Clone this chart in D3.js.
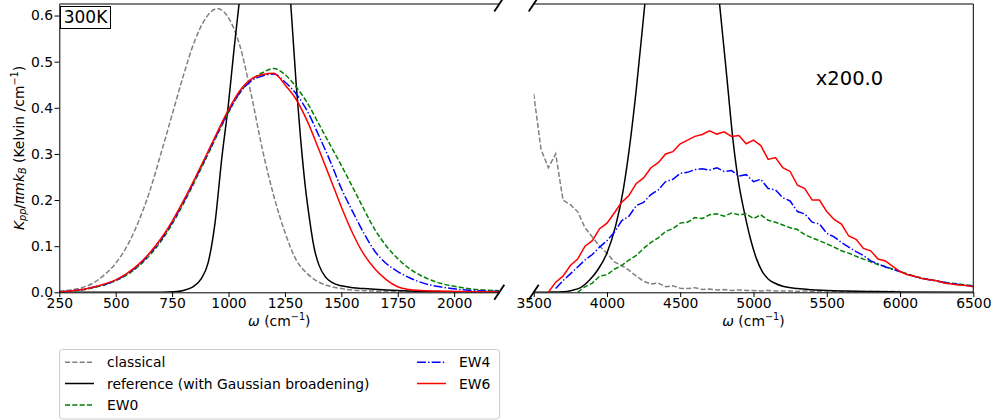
<!DOCTYPE html>
<html>
<head>
<meta charset="utf-8">
<script src="https://cdn.jsdelivr.net/npm/d3@7"></script>
<style>
  body { margin: 0; background: #fff; }
  svg { display: block; font-family: "DejaVu Sans", sans-serif; }
  text { white-space: pre; }
</style>
</head>
<body>
<svg id="chart" width="998" height="420"></svg>
<script>
// ---- low frequency window (cm^-1) ----
const omegaLow = [250, 300, 350, 400, 450, 500, 550, 600, 650, 700, 750, 800, 850, 900, 950, 1000,
    1050, 1100, 1150, 1200, 1250, 1300, 1350, 1400, 1450, 1500, 1550, 1600, 1650, 1700, 1750, 1800,
    1850, 1900, 1950, 2000, 2050, 2100, 2150, 2200];
const classicalLow = [0.002, 0.005, 0.01, 0.02, 0.038, 0.063, 0.1, 0.152, 0.218, 0.3, 0.385, 0.47, 0.545, 0.595, 0.615, 0.595,
    0.535, 0.43, 0.31, 0.21, 0.13, 0.07, 0.04, 0.022, 0.013, 0.008, 0.005, 0.0035, 0.0025, 0.002, 0.0015, 0.001,
    0.0008, 0.0006, 0.0005, 0.0004, 0.0003, 0.0003, 0.0002, 0.0002];
const ew0Low = [0.001, 0.002, 0.005, 0.01, 0.016, 0.025, 0.038, 0.056, 0.08, 0.11, 0.148, 0.192, 0.24, 0.29, 0.341, 0.39,
    0.432, 0.46, 0.476, 0.485, 0.472, 0.445, 0.41, 0.365, 0.32, 0.275, 0.228, 0.18, 0.135, 0.1, 0.073, 0.052,
    0.037, 0.026, 0.018, 0.013, 0.009, 0.006, 0.0045, 0.0035];
const ew4Low = [0.001, 0.003, 0.006, 0.011, 0.017, 0.026, 0.04, 0.058, 0.083, 0.113, 0.151, 0.195, 0.243, 0.293, 0.344, 0.392,
    0.433, 0.458, 0.469, 0.473, 0.456, 0.43, 0.392, 0.34, 0.285, 0.225, 0.175, 0.128, 0.088, 0.062, 0.045, 0.032,
    0.022, 0.015, 0.011, 0.0075, 0.005, 0.0035, 0.0025, 0.002];
const ew6Low = [0.001, 0.003, 0.006, 0.011, 0.018, 0.027, 0.041, 0.06, 0.085, 0.116, 0.154, 0.198, 0.246, 0.296, 0.347, 0.396,
    0.437, 0.462, 0.472, 0.475, 0.45, 0.418, 0.37, 0.31, 0.248, 0.185, 0.128, 0.082, 0.05, 0.027, 0.012, 0.006,
    0.004, 0.003, 0.0025, 0.002, 0.0015, 0.001, 0.001, 0.0008];
const refOmegaLow = [250, 700, 760, 800, 840, 880, 910, 940, 970, 1000, 1025, 1050, 1100, 1160, 1220, 1275, 1300,
    1320, 1340, 1360, 1380, 1400, 1430, 1460, 1500, 1550, 1600, 1700, 1800, 1900, 2000, 2100, 2200];
const refLow = [0, 0, 0.001, 0.004, 0.011, 0.03, 0.065, 0.15, 0.29, 0.41, 0.53, 0.64, 0.9, 1.05, 0.9, 0.63, 0.45,
    0.33, 0.23, 0.155, 0.095, 0.06, 0.033, 0.021, 0.014, 0.01, 0.008, 0.005, 0.003, 0.002, 0.0012, 0.0008, 0.0005];

// ---- high frequency window, values as plotted (x200) ----
const highScale = 200.0;
const omegaHigh = [3500, 3550, 3600, 3650, 3700, 3750, 3800, 3850, 3900, 3950, 4000, 4050, 4100, 4150, 4200, 4250,
    4300, 4350, 4400, 4450, 4500, 4550, 4600, 4650, 4700, 4750, 4800, 4850, 4900, 4950, 5000, 5050, 5100, 5150,
    5200, 5250, 5300, 5350, 5400, 5450, 5500, 5550, 5600, 5650, 5700, 5750, 5800, 5850, 5900, 5950, 6000, 6050,
    6100, 6150, 6200, 6250, 6300, 6350, 6400, 6450, 6500];
const classicalHigh = [0.43, 0.31, 0.27, 0.3, 0.2, 0.19, 0.175, 0.14, 0.12, 0.1, 0.085, 0.066, 0.058, 0.048, 0.035, 0.024,
    0.018, 0.02, 0.012, 0.014, 0.009, 0.008, 0.01, 0.006, 0.007, 0.005, 0.006, 0.004, 0.005, 0.004, 0.004, 0.003, 0.004, 0.003,
    0.003, 0.003, 0.002, 0.003, 0.002, 0.002, 0.003, 0.002, 0.002, 0.002, 0.002, 0.002, 0.002, 0.002, 0.002, 0.002, 0.002, null,
    null, null, null, null, null, null, null, null, null];
const ew0High = [null, null, null, null, null, null, 0.0, 0.012, 0.02, 0.035, 0.038, 0.05, 0.058, 0.07, 0.08, 0.095,
    0.108, 0.118, 0.132, 0.138, 0.15, 0.152, 0.162, 0.16, 0.168, 0.17, 0.165, 0.172, 0.168, 0.17, 0.16, 0.168, 0.156, 0.152,
    0.146, 0.14, 0.136, 0.125, 0.118, 0.112, 0.105, 0.098, 0.09, 0.085, 0.078, 0.072, 0.066, 0.06, 0.056, 0.05, 0.045, 0.04,
    0.035, 0.031, 0.028, 0.025, 0.022, 0.02, 0.018, 0.016, 0.014];
const ew4High = [null, null, null, 0.008, 0.025, 0.04, 0.055, 0.07, 0.082, 0.098, 0.112, 0.13, 0.155, 0.165, 0.188, 0.195,
    0.212, 0.222, 0.24, 0.245, 0.258, 0.26, 0.266, 0.268, 0.265, 0.27, 0.262, 0.264, 0.252, 0.255, 0.24, 0.245, 0.225, 0.222,
    0.205, 0.198, 0.175, 0.17, 0.152, 0.148, 0.128, 0.12, 0.108, 0.098, 0.088, 0.08, 0.068, 0.062, 0.055, 0.05, 0.045, 0.039,
    0.034, 0.03, 0.027, 0.024, 0.022, 0.019, 0.017, 0.015, 0.013];
const ew6High = [null, null, 0.0, 0.022, 0.035, 0.058, 0.072, 0.1, 0.112, 0.138, 0.15, 0.172, 0.195, 0.21, 0.236, 0.248,
    0.27, 0.281, 0.3, 0.305, 0.322, 0.33, 0.338, 0.342, 0.35, 0.343, 0.348, 0.338, 0.34, 0.322, 0.33, 0.318, 0.288, 0.292,
    0.27, 0.262, 0.232, 0.225, 0.2, 0.2, 0.175, 0.158, 0.148, 0.122, 0.115, 0.095, 0.09, 0.072, 0.068, 0.056, 0.045, 0.038,
    0.035, 0.03, 0.027, 0.025, 0.02, 0.018, 0.016, 0.015, 0.012];
const refOmegaHigh = [3500, 3600, 3700, 3760, 3820, 3880, 3940, 4000, 4060, 4110, 4160, 4200, 4260, 4350, 4510, 4670,
    4770, 4820, 4860, 4900, 4940, 4980, 5020, 5060, 5100, 5150, 5200, 5300, 5400, 5500, 5600, 5700, 5800, 6000, 6500];
const refHigh = [0, 0.0003, 0.001, 0.004, 0.01, 0.026, 0.05, 0.085, 0.145, 0.22, 0.33, 0.44, 0.63, 0.9, 1.1, 0.9,
    0.62, 0.46, 0.33, 0.235, 0.17, 0.115, 0.073, 0.045, 0.029, 0.019, 0.013, 0.008, 0.0055, 0.004, 0.003, 0.0022, 0.0015, 0.0008, 0.0002];

const ticksLowX = [250, 500, 750, 1000, 1250, 1500, 1750, 2000];
const ticksHighX = [3500, 4000, 4500, 5000, 5500, 6000, 6500];
const ticksY = [0, 0.1, 0.2, 0.3, 0.4, 0.5, 0.6];

const series = [
    { name: 'classical', color: '#808080', dash: '5.1,2.2', low: classicalLow, high: classicalHigh },
    { name: 'reference (with Gaussian broadening)', color: '#000000', dash: null, ref: true },
    { name: 'EW0', color: '#008000', dash: '5.1,2.2', low: ew0Low, high: ew0High },
    { name: 'EW4', color: '#0000ff', dash: '8.9,2.2,1.4,2.2', low: ew4Low, high: ew4High },
    { name: 'EW6', color: '#ff0000', dash: null, low: ew6Low, high: ew6High }
];

const svg = d3.select('#chart');
const FONT = 13.9;
const SUB = 9.7;
const plotTop = 4, plotBottom = 292.3;

const y = d3.scaleLinear().domain([0, 0.625]).range([plotBottom, plotTop]);
const xLow = d3.scaleLinear().domain([250, 2200]).range([59.3, 499.3]);
const xHigh = d3.scaleLinear().domain([3500, 6500]).range([533.7, 973.3]);

function styleAxis(g) {
    g.attr('font-size', FONT).attr('font-family', '"DejaVu Sans", sans-serif');
    g.selectAll('.tick text').attr('fill', '#000');
    g.selectAll('.tick line').attr('stroke', '#000');
    g.select('.domain').attr('stroke', '#000');
}

function drawPanel(x, ticks, key, refOmega, refValues, clipId, curve) {
    const [x0, x1] = x.range();

    svg.append('clipPath').attr('id', clipId)
        .append('rect').attr('x', x0).attr('y', plotTop).attr('width', x1 - x0).attr('height', plotBottom - plotTop);

    const omega = key === 'low' ? omegaLow : omegaHigh;
    const line = d3.line()
        .defined(d => d[1] != null)
        .x(d => x(d[0]))
        .y(d => y(d[1]));

    const g = svg.append('g').attr('clip-path', 'url(#' + clipId + ')');
    series.forEach(s => {
        const pts = s.ref ? refOmega.map((w, i) => [w, refValues[i]]) : omega.map((w, i) => [w, s[key][i]]);
        g.append('path')
            .attr('d', line.curve(s.ref ? d3.curveMonotoneX : curve)(pts))
            .attr('fill', 'none')
            .attr('stroke', s.color)
            .attr('stroke-width', 1.5)
            .attr('stroke-dasharray', s.dash);
    });

    const xAxis = svg.append('g')
        .attr('transform', 'translate(0,' + plotBottom + ')')
        .call(d3.axisBottom(x).tickValues(ticks).tickSizeInner(4.8).tickSizeOuter(0).tickPadding(1).tickFormat(d3.format('d')));
    styleAxis(xAxis);

    // top spine
    svg.append('line').attr('x1', x0).attr('x2', x1).attr('y1', plotTop).attr('y2', plotTop)
        .attr('stroke', '#000').attr('stroke-width', 1);

    // x label
    const lbl = svg.append('text')
        .attr('x', (x0 + x1) / 2).attr('y', 325.5)
        .attr('text-anchor', 'middle').attr('font-size', FONT);
    lbl.append('tspan').attr('font-style', 'italic').text('ω');
    lbl.append('tspan').text(' (cm');
    lbl.append('tspan').attr('font-size', SUB).attr('dy', -5.5).text('−1');
    lbl.append('tspan').attr('dy', 5.5).text(')');
}

function breakMark(px, py) {
    svg.append('line')
        .attr('x1', px - 5).attr('y1', py + 7.5)
        .attr('x2', px + 5).attr('y2', py - 7.5)
        .attr('stroke', '#000').attr('stroke-width', 1.8);
}

drawPanel(xLow, ticksLowX, 'low', refOmegaLow, refLow, 'clipLow', d3.curveMonotoneX);
drawPanel(xHigh, ticksHighX, 'high', refOmegaHigh, refHigh, 'clipHigh', d3.curveLinear);

// left y axis (only on low panel)
const yAxis = svg.append('g')
    .attr('transform', 'translate(' + xLow.range()[0] + ',0)')
    .call(d3.axisLeft(y).tickValues(ticksY).tickSizeInner(4.8).tickSizeOuter(0).tickPadding(1.5).tickFormat(d3.format('.1f')));
styleAxis(yAxis);

// right spine of the high panel
svg.append('line')
    .attr('x1', xHigh.range()[1]).attr('x2', xHigh.range()[1])
    .attr('y1', plotTop).attr('y2', plotBottom)
    .attr('stroke', '#000').attr('stroke-width', 1);

// axis break marks
[xLow.range()[1], xHigh.range()[0]].forEach(px => {
    breakMark(px, plotTop);
    breakMark(px, plotBottom);
});

// y label
const yLabel = svg.append('text')
    .attr('transform', 'translate(23.5,148) rotate(-90)')
    .attr('text-anchor', 'middle')
    .attr('font-size', FONT);
yLabel.append('tspan').attr('font-style', 'italic').text('K');
yLabel.append('tspan').attr('font-style', 'italic').attr('font-size', SUB).attr('dy', 2.8).text('pp');
yLabel.append('tspan').attr('dy', -2.8).text('/');
yLabel.append('tspan').attr('font-style', 'italic').text('πmk');
yLabel.append('tspan').attr('font-style', 'italic').attr('font-size', SUB).attr('dy', 2.8).text('B');
yLabel.append('tspan').attr('dy', -2.8).text(' (Kelvin /cm');
yLabel.append('tspan').attr('font-size', SUB).attr('dy', -5.5).text('−1');
yLabel.append('tspan').attr('dy', 5.5).text(')');

// temperature tag
svg.append('rect')
    .attr('x', 60.5).attr('y', 6.5).attr('width', 50).attr('height', 22)
    .attr('fill', '#fff').attr('stroke', '#000').attr('stroke-width', 1);
svg.append('text')
    .attr('x', 85.5).attr('y', 23)
    .attr('text-anchor', 'middle').attr('font-size', 17)
    .text('300K');

// scale factor of high panel
svg.append('text')
    .attr('x', 849.5).attr('y', 85)
    .attr('text-anchor', 'middle').attr('font-size', 19.5)
    .text('x' + highScale.toFixed(1));

// legend
const legend = svg.append('g');
legend.append('rect')
    .attr('x', 59.5).attr('y', 349.5).attr('width', 440).attr('height', 69.5).attr('rx', 3)
    .attr('fill', '#fff').attr('stroke', '#cccccc').attr('stroke-width', 1);

const legendPos = [
    { lx: 65, ly: 362.3 }, { lx: 65, ly: 383.5 }, { lx: 65, ly: 405 },
    { lx: 417, ly: 362.3 }, { lx: 417, ly: 383.5 }
];
series.forEach((s, i) => {
    const p = legendPos[i];
    legend.append('line')
        .attr('x1', p.lx).attr('x2', p.lx + 29).attr('y1', p.ly).attr('y2', p.ly)
        .attr('stroke', s.color).attr('stroke-width', 1.5).attr('stroke-dasharray', s.dash);
    legend.append('text')
        .attr('x', p.lx + 42).attr('y', p.ly + 5)
        .attr('font-size', FONT)
        .text(s.name);
});
</script>
</body>
</html>
